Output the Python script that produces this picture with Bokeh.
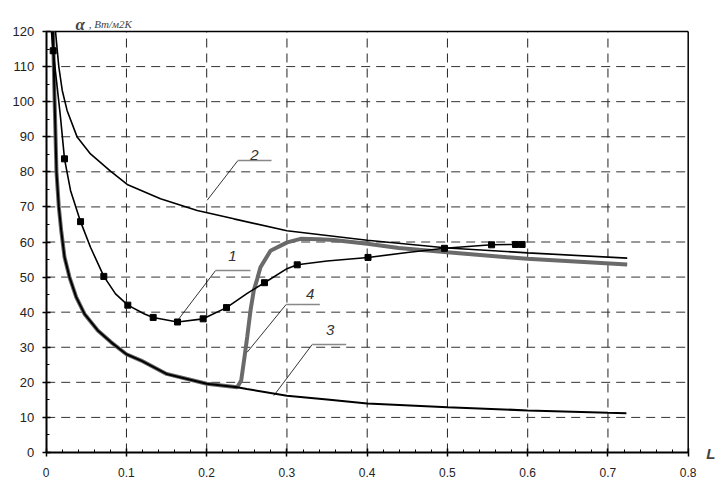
from bokeh.plotting import figure
from bokeh.models import Range1d, Label, FixedTicker
from bokeh.embed import file_html
from bokeh.resources import INLINE

# ---- data ----
c1_x = [0.0065, 0.0087, 0.0157, 0.0178, 0.0228, 0.0303, 0.0428, 0.0552, 0.0718, 0.0864, 0.1017,
        0.1225, 0.1333, 0.1636, 0.1956, 0.2247, 0.25, 0.272, 0.3, 0.3128, 0.35, 0.401, 0.45,
        0.4963, 0.555, 0.5848, 0.593]
c1_y = [120, 114.5, 100, 95.6, 83.7, 74.7, 65.8, 58.5, 50.2, 45.2, 42.0,
        39.5, 38.5, 37.2, 38.1, 41.3, 45.3, 48.4, 52.4, 53.5, 54.6, 55.6, 57.0,
        58.2, 59.2, 59.3, 59.3]
m1_x = [0.0087, 0.0228, 0.0428, 0.0718, 0.1017, 0.1333, 0.1636, 0.1956, 0.2247, 0.272, 0.3128,
        0.401, 0.4963, 0.555, 0.5848, 0.593]
m1_y = [114.5, 83.7, 65.8, 50.2, 42.0, 38.5, 37.2, 38.1, 41.3, 48.4, 53.5,
        55.6, 58.2, 59.2, 59.3, 59.3]

c2_x = [0.0116, 0.0157, 0.02, 0.026, 0.0386, 0.0552, 0.0801, 0.1009, 0.1424, 0.1882, 0.2338,
        0.3, 0.4, 0.5, 0.6, 0.724]
c2_y = [120, 110, 103.2, 97.5, 89.9, 85.1, 80.2, 76.4, 72.3, 69.0, 66.6,
        63.2, 60.5, 58.3, 56.9, 55.4]

c3_x = [0.0085, 0.0105, 0.0128, 0.0157, 0.0187, 0.0228, 0.029, 0.0374, 0.0477, 0.0643, 0.081,
        0.1, 0.1184, 0.15, 0.2, 0.238, 0.25, 0.3, 0.35, 0.4, 0.5, 0.6, 0.7, 0.723]
c3_y = [120, 100, 80, 70, 63.3, 55.7, 50.0, 44.3, 39.5, 34.8, 31.4,
        28.0, 26.2, 22.4, 19.6, 18.6, 18.1, 16.2, 15.1, 14.0, 12.9, 12.0, 11.3, 11.2]

c4_x = [0.0085, 0.0105, 0.0128, 0.0157, 0.0187, 0.0228, 0.029, 0.0374, 0.0477, 0.0643, 0.081,
        0.1, 0.1184, 0.15, 0.2, 0.238, 0.243, 0.247, 0.2505, 0.2546, 0.2587, 0.263, 0.267,
        0.2795, 0.3003, 0.317, 0.34, 0.3584, 0.4, 0.4394, 0.4997, 0.5994, 0.724]
c4_y = [120, 100, 80, 70, 63.3, 55.7, 50.0, 44.3, 39.5, 34.8, 31.4,
        28.0, 26.2, 22.4, 19.6, 18.6, 20.5, 27, 33, 40.5, 46.2, 49.5, 52.8,
        57.5, 59.9, 60.9, 60.8, 60.6, 59.5, 58.3, 57.1, 55.2, 53.6]

curve_names = ["1", "2", "3", "4"]
name_x = [0.2322, 0.2596, 0.3539, 0.329]
name_y = [56.0, 84.9, 34.8, 45.3]
lead_x0 = [0.1653, 0.2006, 0.2836, 0.2505]
lead_y0 = [38.1, 71.9, 16.2, 28.6]
lead_x1 = [0.211, 0.2388, 0.3315, 0.299]
lead_y1 = [51.85, 83.2, 30.8, 42.2]
lead_x2 = [0.2546, 0.2808, 0.3738, 0.341]

x_ticks = [0, 0.1, 0.2, 0.3, 0.4, 0.5, 0.6, 0.7, 0.8]
y_ticks = [0, 10, 20, 30, 40, 50, 60, 70, 80, 90, 100, 110, 120]
x_minor = [round(i * 0.02, 4) for i in range(41)]
y_minor = [i * 5 for i in range(25)]

# the frame covers the whole canvas; the axes sit at x=0 / y=0
X0, X1 = 0.0, 0.8
Y0, Y1 = 0, 120
px_x = 642.0 / 0.8      # pixels per x unit
px_y = 421.0 / 120      # pixels per y unit
x_lo = X0 - 45.7 / px_x
x_hi = X1 + 28.3 / px_x
y_lo = Y0 - 27.0 / px_y
y_hi = Y1 + 31.0 / px_y

p = figure(width=716, height=479, output_backend="svg", toolbar_location=None,
           x_range=Range1d(x_lo, x_hi), y_range=Range1d(y_lo, y_hi),
           min_border=0, min_border_left=0, min_border_right=0,
           min_border_top=0, min_border_bottom=0)
p.background_fill_color = "white"
p.border_fill_color = "white"
p.outline_line_color = None
p.xgrid.visible = False
p.ygrid.visible = False

p.xaxis.fixed_location = 0
p.yaxis.fixed_location = 0
p.xaxis.bounds = (X0, X1)
p.yaxis.bounds = (Y0, Y1)
p.xaxis.ticker = FixedTicker(ticks=x_ticks, minor_ticks=x_minor)
p.yaxis.ticker = FixedTicker(ticks=y_ticks, minor_ticks=y_minor)
for ax in (p.xaxis, p.yaxis):
    ax.axis_line_width = 2
    ax.axis_line_color = "black"
    ax.major_tick_in = 4
    ax.major_tick_out = 4
    ax.major_tick_line_color = "black"
    ax.major_tick_line_width = 1.5
    ax.minor_tick_in = 3
    ax.minor_tick_out = 0
    ax.minor_tick_line_color = "black"
    ax.major_label_text_font = "Liberation Sans"
    ax.major_label_text_font_size = "13px"
    ax.major_label_text_color = "#222222"
p.xaxis.major_label_text_font_size = "12px"
p.xaxis.major_label_standoff = 11
p.yaxis.major_label_standoff = 8

# dashed grid at the major ticks, limited to the plot rectangle
gx = x_ticks[1:-1]
gy = y_ticks[1:-1]
p.segment(x0=gx, y0=[Y0] * len(gx), x1=gx, y1=[Y1] * len(gx),
          line_color="#222222", line_width=1, line_dash="9 6")
p.segment(x0=[X0] * len(gy), y0=gy, x1=[X1] * len(gy), y1=gy,
          line_color="#333333", line_width=1, line_dash="9 6")
# top and right border of the plot box
p.segment(x0=[X0, X1], y0=[Y1, Y0], x1=[X1, X1], y1=[Y1, Y1],
          line_color="black", line_width=1.5)

# curves
p.line(c4_x, c4_y, line_color="#6a6a6a", line_width=4)
p.line(c3_x, c3_y, line_color="black", line_width=2)
p.line(c2_x, c2_y, line_color="black", line_width=1.6)
p.line(c1_x, c1_y, line_color="black", line_width=1.6)
p.scatter(m1_x, m1_y, marker="square", size=6, fill_color="black", line_color="black")

# leader lines and curve numbers
for i, nm in enumerate(curve_names):
    p.line([lead_x0[i], lead_x1[i]], [lead_y0[i], lead_y1[i]], line_color="black", line_width=0.8)
    p.line([lead_x1[i], lead_x2[i]], [lead_y1[i], lead_y1[i]], line_color="#888888", line_width=1.5)
    p.add_layout(Label(x=name_x[i], y=name_y[i], text=nm, text_align="center",
                       text_baseline="middle", text_font="Liberation Sans",
                       text_font_style="italic", text_font_size="15px", text_color="#333333"))

# axis titles
p.add_layout(Label(x=0.0365, y=122.0, text="α", text_font="Liberation Serif",
                   text_font_style="bold italic", text_font_size="17px",
                   text_baseline="alphabetic", text_align="left"))
p.add_layout(Label(x=0.0530, y=122.0, text=", Вт/м2К", text_font="Liberation Serif",
                   text_font_style="italic", text_font_size="11px",
                   text_baseline="alphabetic", text_align="left"))
p.add_layout(Label(x=0.8225, y=-0.2, text="L", text_font="Liberation Sans",
                   text_font_style="bold italic", text_font_size="15px",
                   text_baseline="middle", text_align="left"))

open("out.html", "w").write(file_html(p, INLINE))
